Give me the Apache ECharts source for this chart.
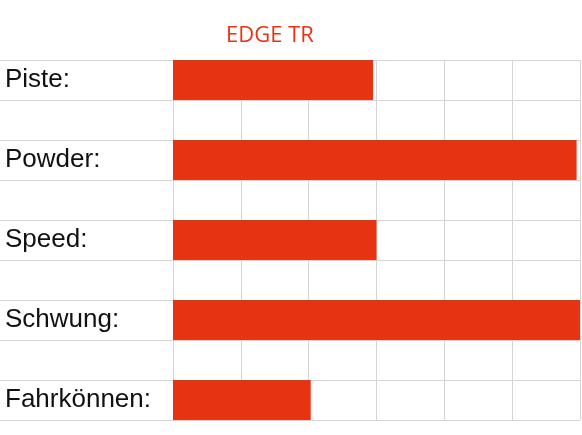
<!DOCTYPE html>
<html><head><meta charset="utf-8">
<script src="https://cdn.jsdelivr.net/npm/echarts@6/dist/echarts.min.js"></script>
<style>html,body{margin:0;padding:0;background:#fff}#c{width:582px;height:435px}</style>
</head><body><div id="c"></div>
<script>
var rows = ['Piste:', '', 'Powder:', '', 'Speed:', '', 'Schwung:', '', 'Fahrkönnen:'];
var values = [2.95, '-', 5.95, '-', 3, '-', 6, '-', 2.03];
var chart = echarts.init(document.getElementById('c'));
var gridLine = { show: true, lineStyle: { color: '#d4d4d4', width: 1 } };
chart.setOption({
  animation: false,
  title: { text: 'EDGE TR', left: 265, top: 20, textAlign: 'center',
    textStyle: { color: '#e63312', fontSize: 22, fontWeight: 'normal', fontFamily: 'Open Sans' } },
  grid: [
    { left: 173, right: 2, top: 60, bottom: 15 },
    { left: 0, width: 173, top: 60, bottom: 15 }
  ],
  xAxis: [
    { gridIndex: 0, type: 'value', min: 0, max: 6, interval: 1, axisLabel: { show: false },
      axisLine: { show: false }, axisTick: { show: false }, splitLine: gridLine },
    { gridIndex: 1, type: 'value', min: 0, max: 1, show: false }
  ],
  yAxis: [
    { gridIndex: 0, type: 'category', inverse: true, data: rows, axisLabel: { show: false },
      axisLine: { show: false }, axisTick: { show: false }, splitLine: gridLine },
    { gridIndex: 1, type: 'category', inverse: true, data: rows,
      axisLine: { show: false }, axisTick: { show: false }, splitLine: gridLine,
      axisLabel: { inside: true, margin: 5, color: '#111', fontSize: 26, fontFamily: 'Liberation Sans',
        padding: [14, 0, 0, 0] } }
  ],
  series: [{
    type: 'bar', xAxisIndex: 0, yAxisIndex: 0, data: values, barWidth: 40,
    itemStyle: { color: '#e63312' }
  }]
});
</script></body></html>
